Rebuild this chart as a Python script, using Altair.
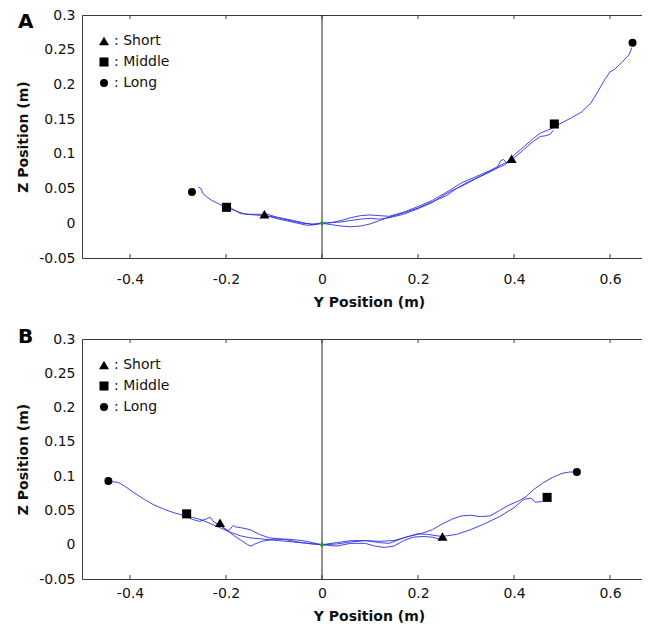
import altair as alt
import pandas as pd

# ---------------- data ----------------
TRIALS = ["Short", "Middle", "Long"]
SHAPES = ["triangle-up", "square", "circle"]
MARKER_SIZES = [100, 64, 55]
X_TICKS = [-0.4, -0.2, 0, 0.2, 0.4, 0.6]
Y_TICKS = [-0.05, 0, 0.05, 0.1, 0.15, 0.2, 0.25, 0.3]

# Panel A trajectories (Y position, Z position)
A_short_y = [-0.118, -0.10, -0.08, -0.06, -0.04, -0.02, 0.0, 0.02, 0.04, 0.06, 0.08, 0.10, 0.12, 0.14,
             0.17, 0.20, 0.23, 0.25, 0.27, 0.29, 0.32, 0.35, 0.365, 0.372, 0.378, 0.385, 0.392]
A_short_z = [0.014, 0.010, 0.006, 0.003, 0.000, -0.001, 0.0, 0.001, 0.002, 0.004, 0.006, 0.007, 0.006, 0.008,
             0.013, 0.021, 0.030, 0.039, 0.047, 0.053, 0.064, 0.074, 0.080, 0.090, 0.092, 0.087, 0.089]

A_middle_y = [-0.197, -0.185, -0.17, -0.15, -0.13, -0.11, -0.09, -0.07, -0.05, -0.03, -0.015, 0.0, 0.02, 0.04,
              0.06, 0.08, 0.10, 0.12, 0.14, 0.17, 0.20, 0.23, 0.26, 0.28, 0.30, 0.33, 0.36, 0.38, 0.40, 0.42,
              0.44, 0.455, 0.465, 0.475, 0.482]
A_middle_z = [0.026, 0.020, 0.014, 0.013, 0.013, 0.010, 0.006, 0.003, 0.000, -0.003, -0.002, 0.0, -0.002, -0.004,
              -0.005, -0.004, -0.001, 0.004, 0.009, 0.015, 0.022, 0.031, 0.040, 0.050, 0.058, 0.068, 0.078, 0.084,
              0.094, 0.106, 0.118, 0.125, 0.126, 0.128, 0.134]

A_long_y = [-0.258, -0.252, -0.248, -0.240, -0.230, -0.215, -0.197, -0.18, -0.16, -0.14, -0.12, -0.10, -0.08,
            -0.06, -0.04, -0.02, 0.0, 0.02, 0.04, 0.06, 0.08, 0.10, 0.12, 0.14, 0.17, 0.20, 0.23, 0.26, 0.29,
            0.32, 0.35, 0.37, 0.385, 0.40, 0.42, 0.44, 0.455, 0.47, 0.48, 0.50, 0.52, 0.54, 0.56, 0.575, 0.59,
            0.60, 0.61, 0.625, 0.64, 0.643, 0.645]
A_long_z = [0.052, 0.050, 0.043, 0.038, 0.033, 0.028, 0.022, 0.018, 0.013, 0.012, 0.011, 0.009, 0.007,
            0.004, 0.001, -0.002, 0.0, 0.001, 0.004, 0.008, 0.011, 0.012, 0.011, 0.010, 0.016, 0.024, 0.033,
            0.045, 0.058, 0.067, 0.076, 0.083, 0.088, 0.098, 0.110, 0.122, 0.130, 0.134, 0.137, 0.145, 0.152,
            0.160, 0.173, 0.190, 0.208, 0.218, 0.222, 0.232, 0.243, 0.248, 0.253]

A_marker_trial = ["Short", "Short", "Middle", "Middle", "Long", "Long"]
A_marker_y = [-0.120, 0.395, -0.199, 0.484, -0.271, 0.647]
A_marker_z = [0.013, 0.093, 0.023, 0.143, 0.045, 0.260]

# Panel B trajectories
B_short_y = [-0.215, -0.20, -0.185, -0.17, -0.155, -0.148, -0.14, -0.125, -0.10, -0.07, -0.04, -0.02, 0.0,
             0.03, 0.06, 0.09, 0.11, 0.13, 0.15, 0.17, 0.19, 0.21, 0.23, 0.245]
B_short_z = [0.030, 0.022, 0.014, 0.007, 0.000, -0.002, 0.001, 0.005, 0.008, 0.008, 0.006, 0.003, 0.0,
             -0.002, 0.002, 0.002, -0.002, -0.004, -0.002, 0.006, 0.011, 0.012, 0.011, 0.008]

B_middle_y = [-0.283, -0.28, -0.27, -0.255, -0.24, -0.233, -0.225, -0.21, -0.195, -0.185, -0.18, -0.17, -0.15,
              -0.13, -0.11, -0.08, -0.05, -0.02, 0.0, 0.03, 0.06, 0.09, 0.12, 0.14, 0.17, 0.20, 0.22, 0.25,
              0.28, 0.31, 0.34, 0.37, 0.40, 0.42, 0.435, 0.445, 0.458]
B_middle_z = [0.047, 0.040, 0.037, 0.034, 0.038, 0.040, 0.033, 0.027, 0.020, 0.028, 0.026, 0.025, 0.022,
              0.015, 0.010, 0.008, 0.004, 0.001, 0.0, 0.001, 0.004, 0.006, 0.003, 0.002, 0.010, 0.016, 0.015,
              0.012, 0.015, 0.022, 0.031, 0.041, 0.054, 0.066, 0.068, 0.062, 0.063]

B_long_y = [-0.44, -0.425, -0.41, -0.39, -0.37, -0.35, -0.33, -0.31, -0.29, -0.27, -0.25, -0.23, -0.21,
            -0.19, -0.17, -0.15, -0.12, -0.09, -0.06, -0.03, 0.0, 0.03, 0.06, 0.09, 0.12, 0.15, 0.18, 0.21,
            0.23, 0.25, 0.27, 0.29, 0.31, 0.33, 0.35, 0.37, 0.39, 0.41, 0.425, 0.44, 0.46, 0.48, 0.50, 0.515,
            0.525]
B_long_z = [0.092, 0.091, 0.085, 0.075, 0.066, 0.058, 0.052, 0.047, 0.043, 0.040, 0.036, 0.030, 0.024,
            0.018, 0.013, 0.010, 0.008, 0.006, 0.004, 0.002, 0.0, 0.003, 0.006, 0.006, 0.005, 0.006, 0.012,
            0.017, 0.022, 0.030, 0.037, 0.042, 0.043, 0.041, 0.042, 0.050, 0.058, 0.064, 0.070, 0.080, 0.090,
            0.098, 0.104, 0.106, 0.106]

B_marker_trial = ["Short", "Short", "Middle", "Middle", "Long", "Long"]
B_marker_y = [-0.2125, 0.251, -0.282, 0.469, -0.445, 0.531]
B_marker_z = [0.032, 0.012, 0.045, 0.069, 0.093, 0.106]

# ---------------- styling / layout ----------------
FONT = "DejaVu Sans"
LINE_COLOR = "#2f2fe6"
AXIS_COLOR = "#3a3a3a"
W = 560
XMAX = -0.5 + W / 480.0
MINUS_FIX = "replace(format(datum.value, '~g'), '\u2212', '-')"


def lines_frame(ys_list, zs_list):
    rows = []
    for trial, ys, zs in zip(TRIALS, ys_list, zs_list):
        for i, (yv, zv) in enumerate(zip(ys, zs)):
            rows.append({"trial": trial, "i": i, "y": yv, "z": zv})
    return pd.DataFrame(rows)


def panel(letter, lines_df, mk_trial, mk_y, mk_z, H, x_label_pad, x_title_pad, letter_y):
    xs = alt.Scale(domain=[-0.5, XMAX], nice=False, zero=False)
    ys = alt.Scale(domain=[-0.05, 0.3], nice=False, zero=False)

    x_axis = alt.Axis(values=X_TICKS, labelExpr=MINUS_FIX, tickSize=0, labelPadding=x_label_pad,
                      title="Y Position (m)", titlePadding=x_title_pad, grid=False,
                      domainColor=AXIS_COLOR, titleX=287)
    y_axis = alt.Axis(values=Y_TICKS, labelExpr=MINUS_FIX, tickSize=0, labelPadding=7,
                      title="Z Position (m)", titlePadding=8, grid=False, domainColor=AXIS_COLOR)

    Y = lambda: alt.Y("z:Q", scale=ys, axis=y_axis, title="Z Position (m)")

    lines = alt.Chart(lines_df).mark_line(color=LINE_COLOR, strokeWidth=0.9).encode(
        x=alt.X("y:Q", scale=xs, axis=x_axis),
        y=Y(),
        detail="trial:N",
        order="i:Q",
    )

    tick_df = pd.DataFrame({"t": X_TICKS})
    top_frame = alt.Chart(tick_df).mark_rule(color=AXIS_COLOR, strokeWidth=1).encode(
        x=alt.X("t:Q", scale=xs,
                axis=alt.Axis(orient="top", labels=False, ticks=False, title=None, grid=False,
                              domainColor=AXIS_COLOR)),
        y=alt.value(0), y2=alt.value(4),
    )
    bottom_ticks = alt.Chart(tick_df).mark_rule(color=AXIS_COLOR, strokeWidth=1).encode(
        x=alt.X("t:Q", scale=xs, axis=None),
        y=alt.value(H), y2=alt.value(H - 4),
    )

    zero_line = alt.Chart(pd.DataFrame({"v": [0.0]})).mark_rule(color="#222222", strokeWidth=1).encode(
        x=alt.X("v:Q", scale=xs, axis=None)
    )
    origin = alt.Chart(pd.DataFrame({"y": [0.0], "z": [0.0]})).mark_point(
        filled=True, color="#1f9a2a", shape="cross", size=22, opacity=1
    ).encode(x=alt.X("y:Q", scale=xs, axis=None), y=Y())

    mk_df = pd.DataFrame({"trial": mk_trial, "y": mk_y, "z": mk_z})
    legend = alt.Legend(title=None, orient="none", legendX=15, legendY=19, padding=0,
                        labelExpr="': ' + datum.label", labelFont=FONT, labelFontSize=14,
                        labelColor="#111111", rowPadding=7, labelOffset=3,
                        symbolFillColor="black", symbolStrokeWidth=0)
    markers = alt.Chart(mk_df).mark_point(filled=True, color="black", opacity=1).encode(
        x=alt.X("y:Q", scale=xs, axis=None),
        y=Y(),
        shape=alt.Shape("trial:N", scale=alt.Scale(domain=TRIALS, range=SHAPES), legend=legend),
        size=alt.Size("trial:N", scale=alt.Scale(domain=TRIALS, range=MARKER_SIZES), legend=legend),
    )

    label = alt.Chart(pd.DataFrame({"t": [letter]})).mark_text(
        font=FONT, fontSize=20, fontWeight="bold", align="left", baseline="alphabetic", color="black"
    ).encode(text="t:N", x=alt.value(-64), y=alt.value(letter_y))

    return alt.layer(lines, zero_line, top_frame, bottom_ticks, origin, markers, label).resolve_axis(
        x="independent"
    ).properties(width=W, height=H)


A = panel("A", lines_frame([A_short_y, A_middle_y, A_long_y], [A_short_z, A_middle_z, A_long_z]),
          A_marker_trial, A_marker_y, A_marker_z, 243, 14, 9, 13)
B = panel("B", lines_frame([B_short_y, B_middle_y, B_long_y], [B_short_z, B_middle_z, B_long_z]),
          B_marker_trial, B_marker_y, B_marker_z, 240, 7, 9, 4)

chart = alt.vconcat(A, B, spacing=18).resolve_scale(shape="independent", size="independent").resolve_legend(
    shape="independent", size="independent"
).properties(
    padding={"left": 8, "top": 0, "right": 0, "bottom": 0}
).configure_view(stroke=None).configure_axis(
    labelFont=FONT, labelFontSize=14, labelColor="#111111",
    titleFont=FONT, titleFontSize=14, titleFontWeight="bold", titleColor="#111111",
    domainWidth=1,
)

chart.save("out.html", embed_options={"renderer": "svg", "actions": False})
